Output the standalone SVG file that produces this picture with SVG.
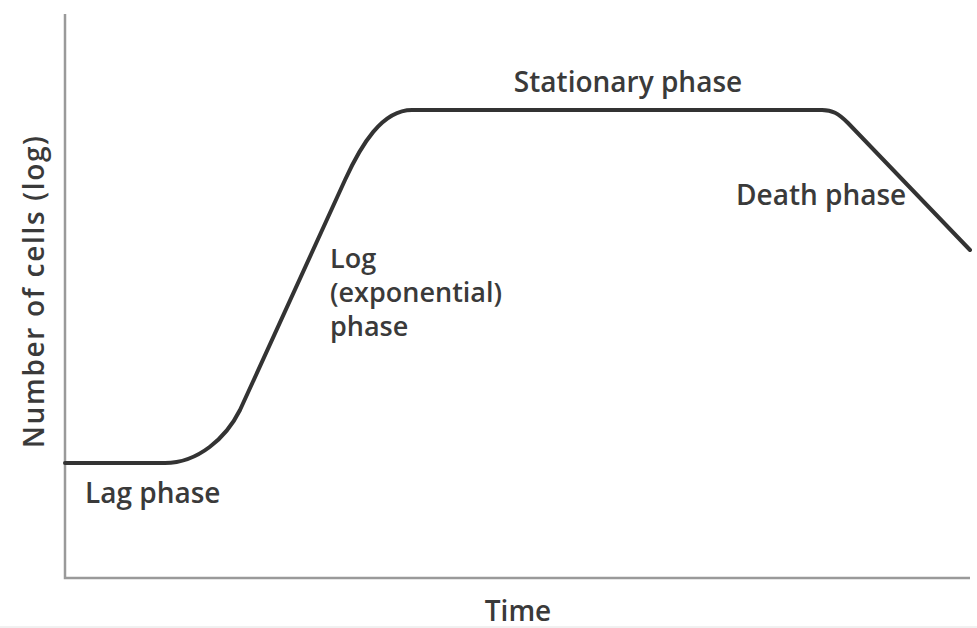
<svg xmlns="http://www.w3.org/2000/svg" width="977" height="628" viewBox="0 0 977 628">
  <style>
    .lbl { font-family: "Open Sans", "Noto Sans", "Liberation Sans", sans-serif; font-weight: 600; font-size: 28px; fill: #3a3a3a; }
    .multi { font-size: 27px; }
    .axis { stroke: #9a9a9a; stroke-width: 2.5; fill: none; }
    .curve { stroke: #333333; stroke-width: 4; fill: none; stroke-linecap: round; stroke-linejoin: round; }
  </style>
  <rect x="0" y="0" width="977" height="628" fill="#ffffff"/>
  <line x1="0" y1="627" x2="977" y2="627" stroke="#e2e2e2" stroke-width="1"/>
  <g id="axes">
    <path class="axis" d="M65,14 L65,578 L970,578"/>
  </g>
  <g id="connectors">
    <path id="growth-curve" class="curve" d="M65,463 L165,463 C198,463 226,438 240,410 L345,180 C361,145 382,110 412,110 L822,110 C832,110 838,113 848,123 L970,250"/>
  </g>
  <g id="y-axis-label">
    <text class="lbl" transform="translate(44,292) rotate(-90)" text-anchor="middle" font-size="27" textLength="312" lengthAdjust="spacing">Number of cells (log)</text>
  </g>
  <g id="x-axis-label">
    <text class="lbl" x="518" y="621" text-anchor="middle">Time</text>
  </g>
  <g id="lag-phase">
    <text class="lbl" x="85" y="503">Lag phase</text>
  </g>
  <g id="log-phase">
    <text class="lbl multi" x="330" y="268">Log</text>
    <text class="lbl multi" x="330" y="302">(exponential)</text>
    <text class="lbl multi" x="330" y="336">phase</text>
  </g>
  <g id="stationary-phase">
    <text class="lbl" x="628" y="92" text-anchor="middle">Stationary phase</text>
  </g>
  <g id="death-phase">
    <text class="lbl" x="736" y="205">Death phase</text>
  </g>
</svg>
